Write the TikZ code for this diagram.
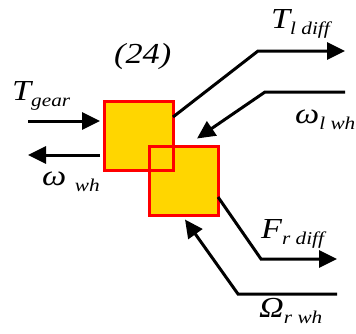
\documentclass[tikz,border=0pt]{standalone}
\usepackage{fontspec}
\setmainfont[FakeStretch=1.18]{Liberation Serif}
\usetikzlibrary{arrows.meta}
\definecolor{boxgold}{RGB}{255,214,0}
\newcommand{\sigsub}[2]{\textit{#1\raisebox{-6pt}{\fontsize{18}{18}\selectfont #2}}}

\begin{document}
\begin{tikzpicture}[x=1pt, y=-1pt,
  every node/.style={font=\fontsize{29}{31}\selectfont, inner sep=0pt},
  blk/.style={fill=boxgold, minimum size=69pt, outer sep=0pt},
  edge/.style={draw=red, line width=3pt},
  flow/.style={line width=3pt, -{Triangle[length=18pt,width=17pt]}},
  lbl/.style={anchor=base west}]
\useasboundingbox (0,0) rectangle (356,333);
% the two blocks
\node[blk] (b1) at (138.5,135.5) {};
\node[blk] (b2) at (183.5,181) {};
\draw[edge] (b1.north west) rectangle (b1.south east);
\draw[edge] (b2.north west) rectangle (b2.south east);
% free ends of the signals
\coordinate (gin) at (28,121);
\coordinate (wout) at (28,155);
\coordinate (tlb) at (258,51);
\coordinate (tl) at (345,51);
\coordinate (wla) at (345,92);
\coordinate (wlb) at (265,92);
\coordinate (frb) at (261,259);
\coordinate (fr) at (337,259);
\coordinate (wra) at (337,294);
\coordinate (wrb) at (238,294);
% signals
\draw[flow] (gin) -- ([xshift=-4pt,yshift=14.5pt]b1.west);
\draw[flow] ([xshift=-4pt,yshift=-19.5pt]b1.west) -- (wout);
\draw[flow] ([yshift=18.5pt]b1.east) -- (tlb) -- (tl);
\draw[flow] (wla) -- (wlb) -- ([xshift=13.5pt,yshift=8pt]b2.north);
\draw[flow] ([yshift=-16pt]b2.east) -- (frb) -- (fr);
\draw[flow] (wra) -- (wrb) -- ([xshift=1.5pt,yshift=-4pt]b2.south);
% labels
\node[lbl] (eq) at (114,63) {\textit{(24)}};
\node[lbl] (tgear) at (12,100) {\sigsub{T}{gear}};
\node[lbl] (wwh) at (42,185) {\sigsub{ω\ }{wh}};
\node[lbl] (tldiff) at (271,28) {\sigsub{T}{l diff}};
\node[lbl] (wlwh) at (295,123) {\sigsub{ω}{l wh}};
\node[lbl] (frdiff) at (261,238) {\sigsub{F}{r diff}};
\node[lbl] (orwh) at (259,317) {\sigsub{Ω}{r wh}};
\end{tikzpicture}
\end{document}
